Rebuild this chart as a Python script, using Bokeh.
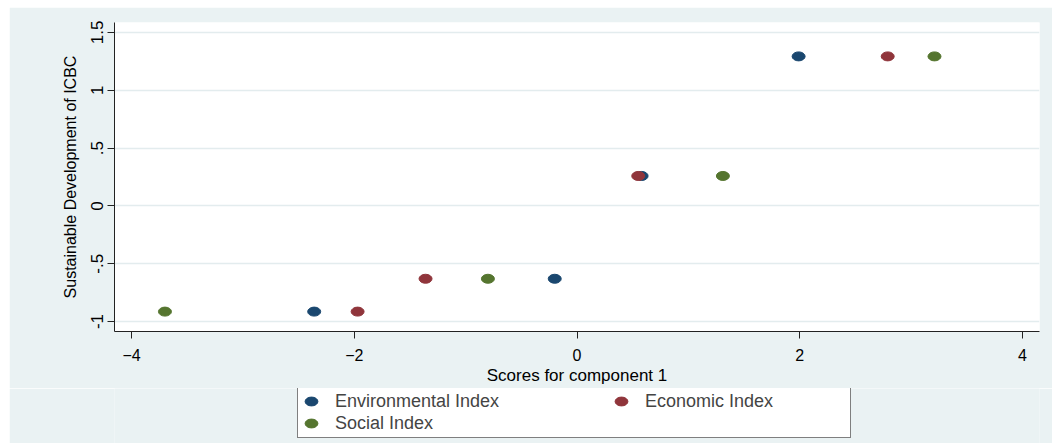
from bokeh.plotting import figure
from bokeh.models import Range1d, FixedTicker, Legend, LegendItem
from bokeh.layouts import column
from bokeh.embed import file_html
from bokeh.resources import INLINE

# Data
dev_values = [-0.914, -0.63, 0.259, 1.293]          # y: Sustainable Development of ICBC
env_scores = [-2.36, -0.20, 0.58, 1.99]             # Environmental Index
eco_scores = [-1.97, -1.36, 0.55, 2.79]             # Economic Index
soc_scores = [-3.70, -0.80, 1.31, 3.21]             # Social Index
y_ticks = [-1, -0.5, 0, 0.5, 1, 1.5]
y_tick_labels = ["-1", "-.5", "0", ".5", "1", "1.5"]
x_ticks = [-4, -2, 0, 2, 4]
series_names = ["Environmental Index", "Economic Index", "Social Index"]
series_colors = ["#1A476F", "#90353B", "#55752F"]

BG = "#EAF2F3"
FONT = "Liberation Sans"

p = figure(width=1043, height=381, output_backend="svg", toolbar_location=None,
           x_range=Range1d(-4.153, 4.153), y_range=Range1d(-1.086, 1.586),
           min_border_left=105, min_border_top=15, min_border_right=13, min_border_bottom=57,
           margin=(7, 0, 0, 9))
p.background_fill_color = "white"
p.border_fill_color = BG
p.outline_line_color = None

p.xgrid.visible = False
p.ygrid.grid_line_color = "#E3ECEE"
p.ygrid.grid_line_width = 1.5

for ax in (p.xaxis[0], p.yaxis[0]):
    ax.axis_line_color = "#222222"
    ax.major_tick_line_color = "#222222"
    ax.major_tick_in = 0
    ax.major_tick_out = 7
    ax.minor_tick_line_color = None
    ax.major_label_text_font = FONT
    ax.major_label_text_color = "black"
    ax.axis_label_text_font = FONT
    ax.axis_label_text_font_style = "normal"
    ax.axis_label_text_color = "black"

p.xaxis.ticker = FixedTicker(ticks=x_ticks)
p.xaxis.major_label_text_font_size = "16px"
p.xaxis.major_label_standoff = 10
p.xaxis.axis_label = "Scores for component 1"
p.xaxis.axis_label_text_font_size = "17px"
p.xaxis.axis_label_standoff = 2

p.yaxis.ticker = FixedTicker(ticks=y_ticks)
p.yaxis.major_label_overrides = {t: l for t, l in zip(y_ticks, y_tick_labels)}
p.yaxis.major_label_orientation = "vertical"
p.yaxis.major_label_text_font_size = "17px"
p.yaxis.major_label_standoff = 4
p.yaxis.axis_label = "Sustainable Development of ICBC"
p.yaxis.axis_label_text_font_size = "16px"
p.yaxis.axis_label_standoff = 10

kw = dict(width=13, height=9, width_units="screen", height_units="screen")
all_scores = [env_scores, eco_scores, soc_scores]
for xs, c in zip(all_scores, series_colors):
    p.ellipse(x=xs, y=dev_values, fill_color=c, line_color=c, **kw)

# Legend panel (a second, axis-less figure under the chart; its frame aligns with the chart's)
q = figure(width=1043, height=55, output_backend="svg", toolbar_location=None,
           x_range=Range1d(-4.153, 4.153), y_range=Range1d(100, 101),
           x_axis_location=None, y_axis_location=None,
           min_border_left=0, min_border_right=0, min_border_top=0, min_border_bottom=0,
           margin=(0, 0, 0, 9))
q.background_fill_color = BG
q.border_fill_color = BG
q.outline_line_color = None
q.xgrid.visible = False
q.ygrid.visible = False
lr = [q.ellipse(x=xs, y=dev_values, fill_color=c, line_color=c, **kw)
      for xs, c in zip(all_scores, series_colors)]

common = dict(glyph_width=20, glyph_height=16, label_height=22, label_standoff=14,
              label_text_font=FONT, label_text_font_size="18px", padding=3, spacing=0,
              margin=0)
leg1 = Legend(items=[LegendItem(label=series_names[0], renderers=[lr[0]]),
                     LegendItem(label=series_names[2], renderers=[lr[2]])],
              location=(183, 5), label_width=512,
              border_line_color="black", border_line_width=1,
              background_fill_color="white", background_fill_alpha=1.0, **common)
leg2 = Legend(items=[LegendItem(label=series_names[1], renderers=[lr[1]])],
              location=(497, 31), label_width=150,
              border_line_color=None, background_fill_alpha=0.0, **common)
q.add_layout(leg1, "center")
q.add_layout(leg2, "center")

layout = column(p, q, spacing=0)
open("out.html", "w").write(file_html(layout, INLINE))
